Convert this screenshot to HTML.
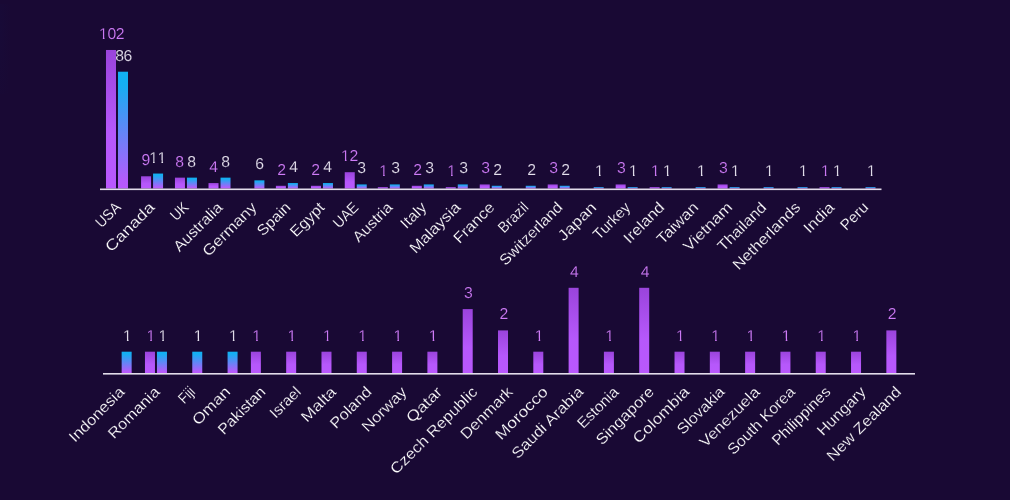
<!DOCTYPE html>
<html><head><meta charset="utf-8"><title>Chart</title>
<style>
html,body{margin:0;padding:0;background:#190934;}
body{width:1010px;height:500px;overflow:hidden;}
svg{display:block;text-rendering:geometricPrecision;font-family:"Liberation Sans",sans-serif;}
.v{font-size:15.75px;text-anchor:middle;stroke:#190934;stroke-width:0.15px;paint-order:fill stroke;}
.c{font-size:15.1px;text-anchor:end;fill:#ffffff;stroke:#190934;stroke-width:0.2px;paint-order:fill stroke;}
</style></head><body>
<svg width="1010" height="500" viewBox="0 0 1010 500">
<defs>
<linearGradient id="gp" x1="0" y1="0" x2="0" y2="1"><stop offset="0" stop-color="#9a44dc"/><stop offset="0.6" stop-color="#b658fb"/><stop offset="1" stop-color="#b958fd"/></linearGradient>
<linearGradient id="gb" x1="0" y1="0" x2="0" y2="1"><stop offset="0" stop-color="#10b2f2"/><stop offset="0.12" stop-color="#16aef2"/><stop offset="0.94" stop-color="#b65afc"/><stop offset="1" stop-color="#b958fd"/></linearGradient>
<radialGradient id="edge" cx="0" cy="0.3" r="1" gradientTransform="scale(1 1)"><stop offset="0" stop-color="#121248" stop-opacity="0.16"/><stop offset="1" stop-color="#121248" stop-opacity="0"/></radialGradient>
<clipPath id="k102"><polygon points="-12.80,-14 -7.30,-14 -7.30,1 -8.92,1 -8.92,-2.2 -12.80,-2.2"/><rect x="-4.20" y="-14" width="8.4" height="18"/><rect x="4.20" y="-14" width="8.4" height="18"/></clipPath><clipPath id="k11"><polygon points="-8.60,-14 -3.10,-14 -3.10,1 -4.72,1 -4.72,-2.2 -8.60,-2.2"/><polygon points="-0.20,-14 5.30,-14 5.30,1 3.68,1 3.68,-2.2 -0.20,-2.2"/></clipPath><clipPath id="k12"><polygon points="-8.60,-14 -3.10,-14 -3.10,1 -4.72,1 -4.72,-2.2 -8.60,-2.2"/><rect x="0.00" y="-14" width="8.4" height="18"/></clipPath><clipPath id="k1"><polygon points="-4.40,-14 1.10,-14 1.10,1 -0.52,1 -0.52,-2.2 -4.40,-2.2"/></clipPath>
</defs>
<rect width="1010" height="500" fill="#190934"/>
<rect x="0" y="4" width="11" height="90" fill="url(#edge)"/>
<rect x="105.99" y="49.98" width="10" height="138.52" fill="url(#gp)"/>
<g transform="translate(111.79 38.98)" clip-path="url(#k102)"><text class="v" x="-8.40 0.00 8.40" y="0" fill="#d07cf8">102</text></g>
<rect x="117.99" y="71.71" width="10" height="116.79" fill="url(#gb)"/>
<text class="v" x="119.59 127.99" y="60.71" fill="#e6e2ee">86</text>
<text class="c" x="121.69" y="208.30" textLength="28.58" lengthAdjust="spacingAndGlyphs" transform="rotate(-45 121.69 208.30)">USA</text>
<rect x="141.07" y="176.28" width="10" height="12.22" fill="url(#gp)"/>
<text class="v" x="145.77" y="165.28" fill="#d07cf8">9</text>
<rect x="153.07" y="173.56" width="10" height="14.94" fill="url(#gb)"/>
<g transform="translate(157.77 162.56)" clip-path="url(#k11)"><text class="v" x="-4.20 4.20" y="0" fill="#e6e2ee">11</text></g>
<text class="c" x="155.67" y="208.30" textLength="62.77" lengthAdjust="spacingAndGlyphs" transform="rotate(-45 155.67 208.30)">Canada</text>
<rect x="174.95" y="177.64" width="10" height="10.86" fill="url(#gp)"/>
<text class="v" x="179.75" y="166.64" fill="#d07cf8">8</text>
<rect x="186.95" y="177.64" width="10" height="10.86" fill="url(#gb)"/>
<text class="v" x="191.75" y="166.64" fill="#e6e2ee">8</text>
<text class="c" x="189.65" y="208.30" textLength="18.81" lengthAdjust="spacingAndGlyphs" transform="rotate(-45 189.65 208.30)">UK</text>
<rect x="208.52" y="183.07" width="10" height="5.43" fill="url(#gp)"/>
<text class="v" x="213.72" y="172.07" fill="#d07cf8">4</text>
<rect x="220.52" y="177.64" width="10" height="10.86" fill="url(#gb)"/>
<text class="v" x="225.72" y="166.64" fill="#e6e2ee">8</text>
<text class="c" x="223.62" y="208.30" textLength="62.54" lengthAdjust="spacingAndGlyphs" transform="rotate(-45 223.62 208.30)">Australia</text>
<rect x="254.40" y="180.35" width="10" height="8.15" fill="url(#gb)"/>
<text class="v" x="259.70" y="169.35" fill="#e6e2ee">6</text>
<text class="c" x="257.60" y="208.30" textLength="69.31" lengthAdjust="spacingAndGlyphs" transform="rotate(-45 257.60 208.30)">Germany</text>
<rect x="275.88" y="185.78" width="10" height="2.72" fill="url(#gp)"/>
<text class="v" x="281.68" y="174.78" fill="#d07cf8">2</text>
<rect x="287.88" y="183.07" width="10" height="5.43" fill="url(#gb)"/>
<text class="v" x="293.68" y="172.07" fill="#e6e2ee">4</text>
<text class="c" x="291.58" y="208.30" textLength="40.36" lengthAdjust="spacingAndGlyphs" transform="rotate(-45 291.58 208.30)">Spain</text>
<rect x="310.96" y="185.78" width="10" height="2.72" fill="url(#gp)"/>
<text class="v" x="315.66" y="174.78" fill="#d07cf8">2</text>
<rect x="322.96" y="183.07" width="10" height="5.43" fill="url(#gb)"/>
<text class="v" x="327.66" y="172.07" fill="#e6e2ee">4</text>
<text class="c" x="325.56" y="208.30" textLength="41.77" lengthAdjust="spacingAndGlyphs" transform="rotate(-45 325.56 208.30)">Egypt</text>
<rect x="344.74" y="172.20" width="10" height="16.30" fill="url(#gp)"/>
<g transform="translate(349.64 161.20)" clip-path="url(#k12)"><text class="v" x="-4.20 4.20" y="0" fill="#d07cf8">12</text></g>
<rect x="356.74" y="184.43" width="10" height="4.07" fill="url(#gb)"/>
<text class="v" x="361.64" y="173.43" fill="#e6e2ee">3</text>
<text class="c" x="359.54" y="208.30" textLength="29.16" lengthAdjust="spacingAndGlyphs" transform="rotate(-45 359.54 208.30)">UAE</text>
<rect x="377.82" y="187.14" width="10" height="1.36" fill="url(#gp)"/>
<g transform="translate(383.62 176.14)" clip-path="url(#k1)"><text class="v" x="0.00" y="0" fill="#d07cf8">1</text></g>
<rect x="389.82" y="184.43" width="10" height="4.07" fill="url(#gb)"/>
<text class="v" x="395.62" y="173.43" fill="#e6e2ee">3</text>
<text class="c" x="393.52" y="208.30" textLength="49.21" lengthAdjust="spacingAndGlyphs" transform="rotate(-45 393.52 208.30)">Austria</text>
<rect x="411.79" y="185.78" width="10" height="2.72" fill="url(#gp)"/>
<text class="v" x="417.59" y="174.78" fill="#d07cf8">2</text>
<rect x="423.79" y="184.43" width="10" height="4.07" fill="url(#gb)"/>
<text class="v" x="429.59" y="173.43" fill="#e6e2ee">3</text>
<text class="c" x="427.49" y="208.30" textLength="29.96" lengthAdjust="spacingAndGlyphs" transform="rotate(-45 427.49 208.30)">Italy</text>
<rect x="445.77" y="187.14" width="10" height="1.36" fill="url(#gp)"/>
<g transform="translate(451.57 176.14)" clip-path="url(#k1)"><text class="v" x="0.00" y="0" fill="#d07cf8">1</text></g>
<rect x="457.77" y="184.43" width="10" height="4.07" fill="url(#gb)"/>
<text class="v" x="463.57" y="173.43" fill="#e6e2ee">3</text>
<text class="c" x="461.47" y="208.30" textLength="64.81" lengthAdjust="spacingAndGlyphs" transform="rotate(-45 461.47 208.30)">Malaysia</text>
<rect x="479.75" y="184.43" width="10" height="4.07" fill="url(#gp)"/>
<text class="v" x="485.55" y="173.43" fill="#d07cf8">3</text>
<rect x="491.75" y="185.78" width="10" height="2.72" fill="url(#gb)"/>
<text class="v" x="497.55" y="174.78" fill="#e6e2ee">2</text>
<text class="c" x="495.45" y="208.30" textLength="50.98" lengthAdjust="spacingAndGlyphs" transform="rotate(-45 495.45 208.30)">France</text>
<rect x="525.73" y="185.78" width="10" height="2.72" fill="url(#gb)"/>
<text class="v" x="531.53" y="174.78" fill="#e6e2ee">2</text>
<text class="c" x="529.43" y="208.30" textLength="35.98" lengthAdjust="spacingAndGlyphs" transform="rotate(-45 529.43 208.30)">Brazil</text>
<rect x="547.71" y="184.43" width="10" height="4.07" fill="url(#gp)"/>
<text class="v" x="553.51" y="173.43" fill="#d07cf8">3</text>
<rect x="559.71" y="185.78" width="10" height="2.72" fill="url(#gb)"/>
<text class="v" x="565.51" y="174.78" fill="#e6e2ee">2</text>
<text class="c" x="563.41" y="208.30" textLength="81.87" lengthAdjust="spacingAndGlyphs" transform="rotate(-45 563.41 208.30)">Switzerland</text>
<rect x="593.68" y="187.14" width="10" height="1.36" fill="url(#gb)"/>
<g transform="translate(599.48 176.14)" clip-path="url(#k1)"><text class="v" x="0.00" y="0" fill="#e6e2ee">1</text></g>
<text class="c" x="597.38" y="208.30" textLength="47.41" lengthAdjust="spacingAndGlyphs" transform="rotate(-45 597.38 208.30)">Japan</text>
<rect x="615.66" y="184.43" width="10" height="4.07" fill="url(#gp)"/>
<text class="v" x="621.46" y="173.43" fill="#d07cf8">3</text>
<rect x="627.66" y="187.14" width="10" height="1.36" fill="url(#gb)"/>
<g transform="translate(633.46 176.14)" clip-path="url(#k1)"><text class="v" x="0.00" y="0" fill="#e6e2ee">1</text></g>
<text class="c" x="631.36" y="208.30" textLength="45.65" lengthAdjust="spacingAndGlyphs" transform="rotate(-45 631.36 208.30)">Turkey</text>
<rect x="649.64" y="187.14" width="10" height="1.36" fill="url(#gp)"/>
<g transform="translate(655.44 176.14)" clip-path="url(#k1)"><text class="v" x="0.00" y="0" fill="#d07cf8">1</text></g>
<rect x="661.64" y="187.14" width="10" height="1.36" fill="url(#gb)"/>
<g transform="translate(667.44 176.14)" clip-path="url(#k1)"><text class="v" x="0.00" y="0" fill="#e6e2ee">1</text></g>
<text class="c" x="665.34" y="208.30" textLength="50.66" lengthAdjust="spacingAndGlyphs" transform="rotate(-45 665.34 208.30)">Ireland</text>
<rect x="695.62" y="187.14" width="10" height="1.36" fill="url(#gb)"/>
<g transform="translate(701.42 176.14)" clip-path="url(#k1)"><text class="v" x="0.00" y="0" fill="#e6e2ee">1</text></g>
<text class="c" x="699.32" y="208.30" textLength="51.84" lengthAdjust="spacingAndGlyphs" transform="rotate(-45 699.32 208.30)">Taiwan</text>
<rect x="717.60" y="184.43" width="10" height="4.07" fill="url(#gp)"/>
<text class="v" x="723.40" y="173.43" fill="#d07cf8">3</text>
<rect x="729.60" y="187.14" width="10" height="1.36" fill="url(#gb)"/>
<g transform="translate(735.40 176.14)" clip-path="url(#k1)"><text class="v" x="0.00" y="0" fill="#e6e2ee">1</text></g>
<text class="c" x="733.30" y="208.30" textLength="62.24" lengthAdjust="spacingAndGlyphs" transform="rotate(-45 733.30 208.30)">Vietnam</text>
<rect x="763.58" y="187.14" width="10" height="1.36" fill="url(#gb)"/>
<g transform="translate(769.38 176.14)" clip-path="url(#k1)"><text class="v" x="0.00" y="0" fill="#e6e2ee">1</text></g>
<text class="c" x="767.28" y="208.30" textLength="61.86" lengthAdjust="spacingAndGlyphs" transform="rotate(-45 767.28 208.30)">Thailand</text>
<rect x="797.55" y="187.14" width="10" height="1.36" fill="url(#gb)"/>
<g transform="translate(803.35 176.14)" clip-path="url(#k1)"><text class="v" x="0.00" y="0" fill="#e6e2ee">1</text></g>
<text class="c" x="801.25" y="208.30" textLength="88.43" lengthAdjust="spacingAndGlyphs" transform="rotate(-45 801.25 208.30)">Netherlands</text>
<rect x="819.53" y="187.14" width="10" height="1.36" fill="url(#gp)"/>
<g transform="translate(825.33 176.14)" clip-path="url(#k1)"><text class="v" x="0.00" y="0" fill="#d07cf8">1</text></g>
<rect x="831.53" y="187.14" width="10" height="1.36" fill="url(#gb)"/>
<g transform="translate(837.33 176.14)" clip-path="url(#k1)"><text class="v" x="0.00" y="0" fill="#e6e2ee">1</text></g>
<text class="c" x="835.23" y="208.30" textLength="36.30" lengthAdjust="spacingAndGlyphs" transform="rotate(-45 835.23 208.30)">India</text>
<rect x="865.51" y="187.14" width="10" height="1.36" fill="url(#gb)"/>
<g transform="translate(871.31 176.14)" clip-path="url(#k1)"><text class="v" x="0.00" y="0" fill="#e6e2ee">1</text></g>
<text class="c" x="869.21" y="208.30" textLength="32.48" lengthAdjust="spacingAndGlyphs" transform="rotate(-45 869.21 208.30)">Peru</text>
<rect x="100" y="188.50" width="781.5" height="1.6" fill="#e2dcea"/>
<rect x="121.65" y="351.70" width="10" height="21.30" fill="url(#gb)"/>
<g transform="translate(127.45 340.70)" clip-path="url(#k1)"><text class="v" x="0.00" y="0" fill="#e6e2ee">1</text></g>
<text class="c" x="125.35" y="392.80" textLength="71.08" lengthAdjust="spacingAndGlyphs" transform="rotate(-45 125.35 392.80)">Indonesia</text>
<rect x="144.96" y="351.70" width="10" height="21.30" fill="url(#gp)"/>
<g transform="translate(150.76 340.70)" clip-path="url(#k1)"><text class="v" x="0.00" y="0" fill="#d07cf8">1</text></g>
<rect x="156.96" y="351.70" width="10" height="21.30" fill="url(#gb)"/>
<g transform="translate(162.76 340.70)" clip-path="url(#k1)"><text class="v" x="0.00" y="0" fill="#e6e2ee">1</text></g>
<text class="c" x="160.66" y="392.80" textLength="66.08" lengthAdjust="spacingAndGlyphs" transform="rotate(-45 160.66 392.80)">Romania</text>
<rect x="192.26" y="351.70" width="10" height="21.30" fill="url(#gb)"/>
<g transform="translate(198.06 340.70)" clip-path="url(#k1)"><text class="v" x="0.00" y="0" fill="#e6e2ee">1</text></g>
<text class="c" x="195.96" y="392.80" textLength="16.43" lengthAdjust="spacingAndGlyphs" transform="rotate(-45 195.96 392.80)">Fiji</text>
<rect x="227.57" y="351.70" width="10" height="21.30" fill="url(#gb)"/>
<g transform="translate(233.37 340.70)" clip-path="url(#k1)"><text class="v" x="0.00" y="0" fill="#e6e2ee">1</text></g>
<text class="c" x="231.27" y="392.80" textLength="46.81" lengthAdjust="spacingAndGlyphs" transform="rotate(-45 231.27 392.80)">Oman</text>
<rect x="250.87" y="351.70" width="10" height="21.30" fill="url(#gp)"/>
<g transform="translate(256.67 340.70)" clip-path="url(#k1)"><text class="v" x="0.00" y="0" fill="#d07cf8">1</text></g>
<text class="c" x="266.57" y="392.80" textLength="60.35" lengthAdjust="spacingAndGlyphs" transform="rotate(-45 266.57 392.80)">Pakistan</text>
<rect x="286.17" y="351.70" width="10" height="21.30" fill="url(#gp)"/>
<g transform="translate(291.97 340.70)" clip-path="url(#k1)"><text class="v" x="0.00" y="0" fill="#d07cf8">1</text></g>
<text class="c" x="301.87" y="392.80" textLength="36.96" lengthAdjust="spacingAndGlyphs" transform="rotate(-45 301.87 392.80)">Israel</text>
<rect x="321.48" y="351.70" width="10" height="21.30" fill="url(#gp)"/>
<g transform="translate(327.28 340.70)" clip-path="url(#k1)"><text class="v" x="0.00" y="0" fill="#d07cf8">1</text></g>
<text class="c" x="337.18" y="392.80" textLength="42.64" lengthAdjust="spacingAndGlyphs" transform="rotate(-45 337.18 392.80)">Malta</text>
<rect x="356.78" y="351.70" width="10" height="21.30" fill="url(#gp)"/>
<g transform="translate(362.58 340.70)" clip-path="url(#k1)"><text class="v" x="0.00" y="0" fill="#d07cf8">1</text></g>
<text class="c" x="372.48" y="392.80" textLength="51.72" lengthAdjust="spacingAndGlyphs" transform="rotate(-45 372.48 392.80)">Poland</text>
<rect x="392.09" y="351.70" width="10" height="21.30" fill="url(#gp)"/>
<g transform="translate(397.89 340.70)" clip-path="url(#k1)"><text class="v" x="0.00" y="0" fill="#d07cf8">1</text></g>
<text class="c" x="407.79" y="392.80" textLength="56.56" lengthAdjust="spacingAndGlyphs" transform="rotate(-45 407.79 392.80)">Norway</text>
<rect x="427.39" y="351.70" width="10" height="21.30" fill="url(#gp)"/>
<g transform="translate(433.19 340.70)" clip-path="url(#k1)"><text class="v" x="0.00" y="0" fill="#d07cf8">1</text></g>
<text class="c" x="443.09" y="392.80" textLength="43.44" lengthAdjust="spacingAndGlyphs" transform="rotate(-45 443.09 392.80)">Qatar</text>
<rect x="462.70" y="309.10" width="10" height="63.90" fill="url(#gp)"/>
<text class="v" x="468.50" y="298.10" fill="#d07cf8">3</text>
<text class="c" x="478.40" y="392.80" textLength="116.24" lengthAdjust="spacingAndGlyphs" transform="rotate(-45 478.40 392.80)">Czech Republic</text>
<rect x="498.00" y="330.40" width="10" height="42.60" fill="url(#gp)"/>
<text class="v" x="503.80" y="319.40" fill="#d07cf8">2</text>
<text class="c" x="513.70" y="392.80" textLength="66.86" lengthAdjust="spacingAndGlyphs" transform="rotate(-45 513.70 392.80)">Denmark</text>
<rect x="533.30" y="351.70" width="10" height="21.30" fill="url(#gp)"/>
<g transform="translate(539.10 340.70)" clip-path="url(#k1)"><text class="v" x="0.00" y="0" fill="#d07cf8">1</text></g>
<text class="c" x="549.00" y="392.80" textLength="67.63" lengthAdjust="spacingAndGlyphs" transform="rotate(-45 549.00 392.80)">Morocco</text>
<rect x="568.61" y="287.80" width="10" height="85.20" fill="url(#gp)"/>
<text class="v" x="574.41" y="276.80" fill="#d07cf8">4</text>
<text class="c" x="584.31" y="392.80" textLength="94.22" lengthAdjust="spacingAndGlyphs" transform="rotate(-45 584.31 392.80)">Saudi Arabia</text>
<rect x="603.91" y="351.70" width="10" height="21.30" fill="url(#gp)"/>
<g transform="translate(609.71 340.70)" clip-path="url(#k1)"><text class="v" x="0.00" y="0" fill="#d07cf8">1</text></g>
<text class="c" x="619.61" y="392.80" textLength="51.51" lengthAdjust="spacingAndGlyphs" transform="rotate(-45 619.61 392.80)">Estonia</text>
<rect x="639.22" y="287.80" width="10" height="85.20" fill="url(#gp)"/>
<text class="v" x="645.02" y="276.80" fill="#d07cf8">4</text>
<text class="c" x="654.92" y="392.80" textLength="74.78" lengthAdjust="spacingAndGlyphs" transform="rotate(-45 654.92 392.80)">Singapore</text>
<rect x="674.52" y="351.70" width="10" height="21.30" fill="url(#gp)"/>
<g transform="translate(680.32 340.70)" clip-path="url(#k1)"><text class="v" x="0.00" y="0" fill="#d07cf8">1</text></g>
<text class="c" x="690.22" y="392.80" textLength="72.87" lengthAdjust="spacingAndGlyphs" transform="rotate(-45 690.22 392.80)">Colombia</text>
<rect x="709.83" y="351.70" width="10" height="21.30" fill="url(#gp)"/>
<g transform="translate(715.63 340.70)" clip-path="url(#k1)"><text class="v" x="0.00" y="0" fill="#d07cf8">1</text></g>
<text class="c" x="725.53" y="392.80" textLength="60.02" lengthAdjust="spacingAndGlyphs" transform="rotate(-45 725.53 392.80)">Slovakia</text>
<rect x="745.13" y="351.70" width="10" height="21.30" fill="url(#gp)"/>
<g transform="translate(750.93 340.70)" clip-path="url(#k1)"><text class="v" x="0.00" y="0" fill="#d07cf8">1</text></g>
<text class="c" x="760.83" y="392.80" textLength="78.19" lengthAdjust="spacingAndGlyphs" transform="rotate(-45 760.83 392.80)">Venezuela</text>
<rect x="780.43" y="351.70" width="10" height="21.30" fill="url(#gp)"/>
<g transform="translate(786.23 340.70)" clip-path="url(#k1)"><text class="v" x="0.00" y="0" fill="#d07cf8">1</text></g>
<text class="c" x="796.13" y="392.80" textLength="88.59" lengthAdjust="spacingAndGlyphs" transform="rotate(-45 796.13 392.80)">South Korea</text>
<rect x="815.74" y="351.70" width="10" height="21.30" fill="url(#gp)"/>
<g transform="translate(821.54 340.70)" clip-path="url(#k1)"><text class="v" x="0.00" y="0" fill="#d07cf8">1</text></g>
<text class="c" x="831.44" y="392.80" textLength="75.71" lengthAdjust="spacingAndGlyphs" transform="rotate(-45 831.44 392.80)">Philippines</text>
<rect x="851.04" y="351.70" width="10" height="21.30" fill="url(#gp)"/>
<g transform="translate(856.84 340.70)" clip-path="url(#k1)"><text class="v" x="0.00" y="0" fill="#d07cf8">1</text></g>
<text class="c" x="866.74" y="392.80" textLength="61.82" lengthAdjust="spacingAndGlyphs" transform="rotate(-45 866.74 392.80)">Hungary</text>
<rect x="886.35" y="330.40" width="10" height="42.60" fill="url(#gp)"/>
<text class="v" x="892.15" y="319.40" fill="#d07cf8">2</text>
<text class="c" x="902.05" y="392.80" textLength="97.98" lengthAdjust="spacingAndGlyphs" transform="rotate(-45 902.05 392.80)">New Zealand</text>
<rect x="103" y="373.00" width="812" height="1.6" fill="#e2dcea"/>
</svg>
</body></html>
